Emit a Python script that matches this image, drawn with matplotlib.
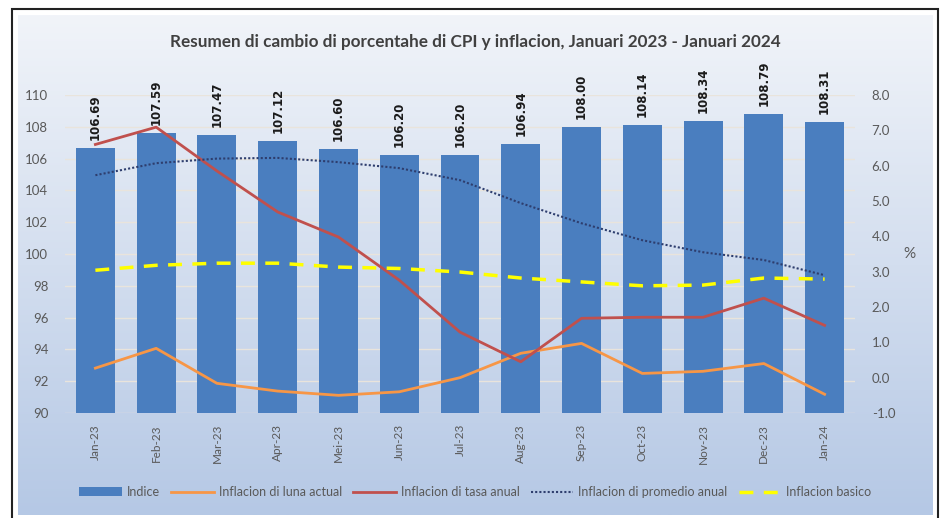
import numpy as np
import matplotlib
matplotlib.use("Agg")
import matplotlib.pyplot as plt
from matplotlib.patches import Rectangle
from matplotlib.colors import LinearSegmentedColormap

plt.rcParams['font.family'] = ['Lato', 'DejaVu Sans']

# data
months = ["Jan-23", "Feb-23", "Mar-23", "Apr-23", "Mei-23", "Jun-23", "Jul-23",
          "Aug-23", "Sep-23", "Oct-23", "Nov-23", "Dec-23", "Jan-24"]
indice = [106.69, 107.59, 107.47, 107.12, 106.60, 106.20, 106.20,
          106.94, 108.00, 108.14, 108.34, 108.79, 108.31]
luna_actual = [0.27, 0.83, -0.16, -0.38, -0.50, -0.40, 0.00,
               0.69, 0.97, 0.12, 0.18, 0.40, -0.47]
tasa_anual = [6.60, 7.09, 5.85, 4.69, 3.98, 2.76, 1.29,
              0.45, 1.68, 1.71, 1.71, 2.25, 1.48]
promedio_anual = [5.73, 6.07, 6.20, 6.22, 6.10, 5.93, 5.59,
                  4.94, 4.37, 3.89, 3.55, 3.33, 2.90]
basico = [3.04, 3.18, 3.24, 3.24, 3.13, 3.09, 2.99,
          2.82, 2.71, 2.60, 2.62, 2.82, 2.79]

fig = plt.figure(figsize=(9.51, 5.18), dpi=100)

# gradient panel behind everything
bg = fig.add_axes([18/951, 3/518, 915/951, 500/518], zorder=0)
grad = np.linspace(0, 1, 256).reshape(-1, 1)
cmap = LinearSegmentedColormap.from_list("bg", ["#f1f4f9", "#b5c8e5"])
bg.imshow(grad, aspect="auto", cmap=cmap, extent=[0, 1, 0, 1], origin="upper")
bg.axis("off")

# outer frame
fig.patches.append(Rectangle((12/951, -0.01), 926/951, (518 - 9)/518 + 0.01,
                             transform=fig.transFigure, fill=False,
                             edgecolor="#222222", linewidth=1.5, zorder=1))

ax = fig.add_axes([65/951, 1 - 413/518, 790/951, 318/518], zorder=2)
ax.set_facecolor("none")
x = np.arange(len(months))

bars = ax.bar(x, indice, width=0.64, color="#4a7ebf", label="Indice", zorder=2)
for xi, v in zip(x, indice):
    ax.text(xi, v + 0.5, f"{v:.2f}", rotation=90, ha="center", va="bottom",
            fontsize=8.5, fontweight="bold", color="#1a1a1a", family="DejaVu Sans")

ax.set_ylim(90, 110)
ax.set_yticks(np.arange(90, 111, 2))
ax.set_xlim(-0.5, len(months) - 0.5)
ax.set_xticks(x)
ax.set_xticklabels(months, rotation=90, fontsize=8.5, color="#595959")
ax.tick_params(axis="y", labelsize=9.5, colors="#595959", length=0, pad=12)
ax.tick_params(axis="x", length=0, pad=8)
ax.grid(axis="y", color="#e9e4dc", linewidth=1, zorder=0)
ax.set_axisbelow(True)
for s in ax.spines.values():
    s.set_visible(False)

ax2 = ax.twinx()
ax2.plot(x, luna_actual, color="#f79646", linewidth=2, label="Inflacion di luna actual")
ax2.plot(x, tasa_anual, color="#c0504d", linewidth=2, label="Inflacion di tasa anual")
ax2.plot(x, promedio_anual, color="#2e3e6e", linewidth=1.5, linestyle=(0, (1, 1)),
         label="Inflacion di promedio anual")
ax2.plot(x, basico, color="#ffff00", linewidth=2.5, linestyle=(0, (4, 3)),
         label="Inflacion basico")
ax2.set_ylim(-1, 8)
ax2.set_yticks(np.arange(-1, 9, 1))
ax2.set_yticklabels([f"{v:.1f}" for v in np.arange(-1, 9, 1)])
ax2.tick_params(axis="y", labelsize=9.5, colors="#595959", length=0, pad=12)
ax2.set_ylabel("%", rotation=0, fontsize=11, color="#595959", labelpad=10, va="center")
for s in ax2.spines.values():
    s.set_visible(False)

fig.text(0.5, 1 - 42/518, "Resumen di cambio di porcentahe di CPI y inflacion, Januari 2023 - Januari 2024",
         ha="center", va="center", fontsize=12.3, fontweight="bold", color="#404040")

h1, l1 = ax.get_legend_handles_labels()
h2, l2 = ax2.get_legend_handles_labels()
fig.legend(h1 + h2, l1 + l2, loc="center", bbox_to_anchor=(0.5, 1 - 492/518), ncol=5,
           frameon=False, fontsize=9, labelcolor="#595959", handlelength=3.4,
           columnspacing=0.9, handletextpad=0.4)

fig.savefig("out.png", dpi=100)
